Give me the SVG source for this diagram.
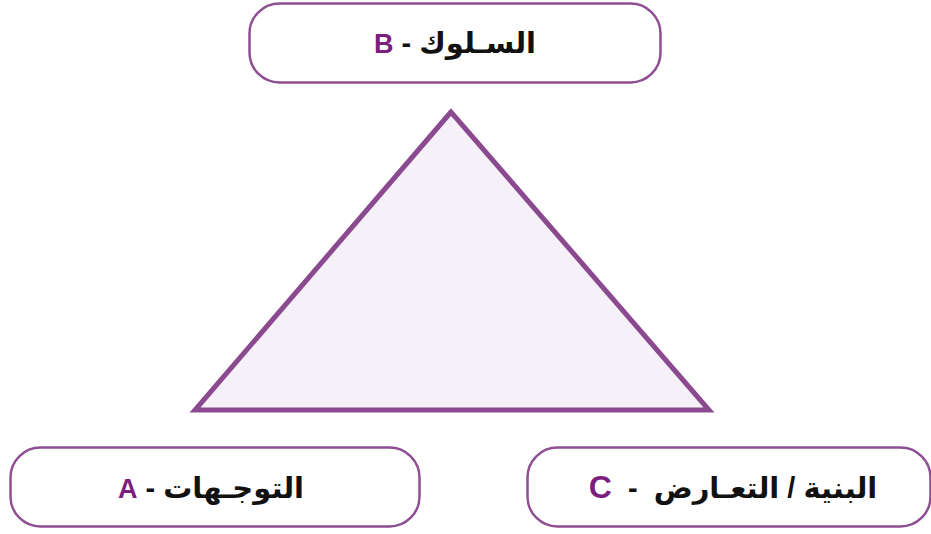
<svg xmlns="http://www.w3.org/2000/svg" width="931" height="534" viewBox="0 0 931 534">
<style>
.box{fill:#ffffff;stroke:#8E4F93;stroke-width:2.5}
.lbl{font-family:"Liberation Sans","DejaVu Sans",sans-serif;font-size:29px;font-weight:bold;fill:#111111}
.ltr{fill:#7B1F7F;font-weight:bold;font-family:"Liberation Sans",sans-serif}
.tri{fill:#F6F0F8;stroke:#8B4A8F;stroke-width:5;stroke-linejoin:miter}
</style>
<rect width="931" height="534" fill="#ffffff"/>
<g id="connectors">
<polygon class="tri" points="451,112 195,410 709,410"/>
</g>
<g id="nodeB">
<rect class="box" x="249.5" y="3.5" width="411" height="79" rx="30"/>
<text class="lbl" x="455" y="53" text-anchor="middle" direction="rtl">السـلوك - <tspan class="ltr" font-size="27">B</tspan></text>
</g>
<g id="nodeA">
<rect class="box" x="10.5" y="447.5" width="409" height="79" rx="30"/>
<text class="lbl" x="211" y="498" text-anchor="middle" direction="rtl">التوجـهات - <tspan class="ltr" font-size="27">A</tspan></text>
</g>
<g id="nodeC">
<rect class="box" x="527.5" y="447.5" width="403" height="79" rx="30"/>
<text class="lbl" x="733" y="498" text-anchor="middle" direction="rtl" xml:space="preserve">البنية / التعـارض  -  <tspan class="ltr" font-size="32">C</tspan></text>
</g>
</svg>
